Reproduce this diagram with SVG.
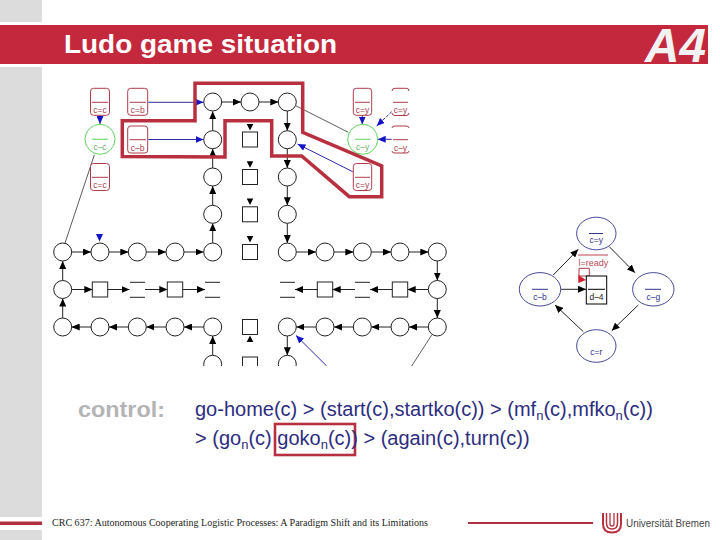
<svg xmlns="http://www.w3.org/2000/svg" width="720" height="540" viewBox="0 0 720 540">
<style>
.p{fill:#fff;stroke:#222;stroke-width:1}
.b{stroke:#222;stroke-width:1;fill:none}
.k{stroke:#222;stroke-width:1;fill:none;marker-end:url(#ak)}
.u{stroke:#2a2aa8;stroke-width:1;fill:none;marker-end:url(#au)}
.thin{stroke:#333;stroke-width:.8;fill:none}
.r{fill:#fff;stroke:#b03a4a;stroke-width:1}
.ro{fill:none;stroke:#b03a4a;stroke-width:1}
.g{fill:#fff;stroke:#5ed85e;stroke-width:1}
.n{font:8.5px "Liberation Sans",Arial,sans-serif;fill:#a8404e;text-anchor:middle}
.ng{font:8.5px "Liberation Sans",Arial,sans-serif;fill:#70b070;text-anchor:middle}
.e{fill:#fff;stroke:#33338c;stroke-width:.9}
.ne{font:8.5px "Liberation Sans",Arial,sans-serif;fill:#33338c;text-anchor:middle}
.t{font:20px "Liberation Sans",Arial,sans-serif;fill:#2d2d80}
.s{font-size:13px}
</style>
<defs>
<marker id="ak" markerUnits="userSpaceOnUse" markerWidth="8" markerHeight="7" refX="8" refY="3.5" orient="auto"><path d="M0,0L8,3.5L0,7z" fill="#000"/></marker>
<marker id="au" markerUnits="userSpaceOnUse" markerWidth="8" markerHeight="7" refX="8" refY="3.5" orient="auto"><path d="M0,0L8,3.5L0,7z" fill="#1414c8"/></marker>
<clipPath id="cut"><rect x="0" y="0" width="720" height="366"/></clipPath>
<clipPath id="cutr"><rect x="392" y="80" width="18" height="120"/></clipPath>
</defs>

<g id="page">
<rect x="0" y="0" width="42" height="22" fill="#dcdcdc"/>
<rect x="0" y="67" width="42" height="450" fill="#dcdcdc"/>
<rect x="0" y="530" width="42" height="10" fill="#dcdcdc"/>
<rect x="0" y="25" width="708" height="39" fill="#c4283c"/>
<rect x="0" y="521.5" width="42" height="3.5" fill="#b0303f"/>
<text x="64" y="53" font-family="Liberation Sans,Arial,sans-serif" font-weight="700" font-size="25" fill="#fff" textLength="273" lengthAdjust="spacingAndGlyphs">Ludo game situation</text>
<text x="645" y="62" font-family="Liberation Sans,Arial,sans-serif" font-weight="700" font-style="italic" font-size="48" fill="#f2f2f2" textLength="61" lengthAdjust="spacingAndGlyphs">A4</text>
</g>

<g id="connectors" clip-path="url(#cut)">
<line class="k" x1="212.7" y1="130.7" x2="212.7" y2="111.3"/>
<line class="k" x1="212.7" y1="168" x2="212.7" y2="148.7"/>
<line class="k" x1="212.7" y1="205.3" x2="212.7" y2="186"/>
<line class="k" x1="212.7" y1="243" x2="212.7" y2="223.3"/>
<line class="k" x1="221.7" y1="102" x2="241" y2="102"/>
<line class="k" x1="259" y1="102" x2="278.3" y2="102"/>
<line class="k" x1="287.3" y1="111" x2="287.3" y2="130.7"/>
<line class="k" x1="287.3" y1="148.7" x2="287.3" y2="168"/>
<line class="k" x1="287.3" y1="186" x2="287.3" y2="205.3"/>
<line class="k" x1="287.3" y1="223.3" x2="287.3" y2="243"/>
<line class="k" x1="71.7" y1="252" x2="91" y2="252"/>
<line class="k" x1="109" y1="252" x2="128.3" y2="252"/>
<line class="k" x1="146.3" y1="252" x2="166" y2="252"/>
<line class="k" x1="184" y1="252" x2="203.5" y2="252"/>
<line class="k" x1="296.3" y1="252" x2="316" y2="252"/>
<line class="k" x1="334" y1="252" x2="353.3" y2="252"/>
<line class="k" x1="371.3" y1="252" x2="391" y2="252"/>
<line class="k" x1="409" y1="252" x2="428.3" y2="252"/>
<line class="k" x1="437.3" y1="261" x2="437.3" y2="280.5"/>
<line class="k" x1="437.3" y1="298.5" x2="437.3" y2="318"/>
<line class="k" x1="62.7" y1="318" x2="62.7" y2="298.5"/>
<line class="k" x1="62.7" y1="280.5" x2="62.7" y2="261"/>
<line class="k" x1="71.7" y1="289.5" x2="92.3" y2="289.5"/>
<line class="k" x1="107.7" y1="289.5" x2="129.5" y2="289.5"/>
<line class="k" x1="145" y1="289.5" x2="167.3" y2="289.5"/>
<line class="k" x1="182.7" y1="289.5" x2="205" y2="289.5"/>
<line class="k" x1="428.3" y1="289.5" x2="407.7" y2="289.5"/>
<line class="k" x1="392.3" y1="289.5" x2="370" y2="289.5"/>
<line class="k" x1="355" y1="289.5" x2="332.7" y2="289.5"/>
<line class="k" x1="317.3" y1="289.5" x2="295" y2="289.5"/>
<line class="k" x1="203.7" y1="327" x2="184" y2="327"/>
<line class="k" x1="166" y1="327" x2="146.3" y2="327"/>
<line class="k" x1="128.3" y1="327" x2="109" y2="327"/>
<line class="k" x1="91" y1="327" x2="71.7" y2="327"/>
<line class="k" x1="428.3" y1="327" x2="409" y2="327"/>
<line class="k" x1="391" y1="327" x2="371.3" y2="327"/>
<line class="k" x1="353.3" y1="327" x2="334" y2="327"/>
<line class="k" x1="316" y1="327" x2="296.3" y2="327"/>
<line class="k" x1="212.7" y1="355.3" x2="212.7" y2="336"/>
<line class="k" x1="287.3" y1="336" x2="287.3" y2="355.3"/>
<line class="thin" x1="94.3" y1="155" x2="65" y2="243"/>
<line class="thin" x1="295.7" y1="105.7" x2="348.3" y2="132.3"/>
<line class="thin" x1="431.7" y1="335" x2="411.7" y2="366"/>
<line class="u" x1="148.3" y1="102.3" x2="203.5" y2="102.3"/>
<line class="u" x1="148.3" y1="139.5" x2="203.5" y2="139.5"/>
<line class="u" x1="100" y1="115" x2="100" y2="124"/>
<line class="u" x1="362.3" y1="115" x2="362.3" y2="124.5"/>
<line class="u" x1="391.7" y1="111.7" x2="376.7" y2="126" stroke-dasharray="3 1.5"/>
<line class="u" x1="391.7" y1="139.3" x2="377.7" y2="139.3"/>
<line class="u" x1="352.7" y1="171.7" x2="297.5" y2="144"/>
<line class="u" x1="326.7" y1="366" x2="296" y2="335.5"/>
<path d="M96,234L103,234L99.5,241.5z" fill="#1414c8"/>
<path d="M246.7,124L253.3,124L250,130.5z M246.7,161.3L253.3,161.3L250,167.8z M246.7,198.6L253.3,198.6L250,205.1z M246.7,236L253.3,236L250,242.5z" fill="#000"/>
<path d="M246.7,342L253.3,342L250,335.5z" fill="#000"/>
<line class="k" x1="553.3" y1="275" x2="578.3" y2="249.3"/>
<line class="k" x1="609.3" y1="246.7" x2="635" y2="272.7"/>
<line class="k" x1="638.3" y1="305" x2="611.7" y2="330.7"/>
<line class="k" x1="583.3" y1="331.7" x2="555" y2="305"/>
<line class="k" stroke-width="1.2" x1="560.7" y1="289.3" x2="586" y2="289.3"/>
<path d="M579,278.5V268.3H589.3V276H579" fill="none" stroke="#b03a4a" stroke-width="1"/>
<path d="M578.3,275L586,280L578.3,283z" fill="#d01c2c"/>
</g>

<g id="n-c1" ><rect class="r" x="90.5" y="88.3" width="19" height="27" rx="3"/><line class="ro" x1="92" y1="102.3" x2="108" y2="102.3"/><text class="n" x="100" y="113">c=c</text></g>
<g id="n-c2"><circle class="g" cx="100" cy="139.3" r="15"/><line x1="92" y1="139.3" x2="108" y2="139.3" stroke="#5ed85e"/><text class="ng" x="100" y="150">c–c</text></g>
<g id="n-c3"><rect class="r" x="90.5" y="163.5" width="19" height="27" rx="3"/><line class="ro" x1="92" y1="177.3" x2="108" y2="177.3"/><text class="n" x="100" y="188">c=c</text></g>
<g id="n-b1"><rect class="r" x="127.7" y="88.3" width="20" height="27" rx="3"/><line class="ro" x1="129.5" y1="102.3" x2="146" y2="102.3"/><text class="n" x="137.7" y="113">c=b</text></g>
<g id="n-b2"><rect class="r" x="127.7" y="126" width="20" height="27" rx="3"/><line class="ro" x1="129.5" y1="139.7" x2="146" y2="139.7"/><text class="n" x="137.7" y="150.5">c–b</text></g>
<g id="n-y1"><rect class="r" x="353.3" y="88.3" width="18.4" height="27" rx="3"/><line class="ro" x1="355" y1="102.3" x2="370" y2="102.3"/><text class="n" x="362.5" y="113">c=y</text></g>
<g id="n-y2"><circle class="g" cx="362.7" cy="139.3" r="15"/><line x1="355" y1="139.3" x2="370.5" y2="139.3" stroke="#5ed85e"/><text class="ng" x="362.7" y="150">c–y</text></g>
<g id="n-y3"><rect class="r" x="353.3" y="163.5" width="18.4" height="27" rx="3"/><line class="ro" x1="355" y1="177.3" x2="370" y2="177.3"/><text class="n" x="362.5" y="188">c=y</text></g>
<g id="n-y4"><path class="ro" d="M392,91Q392,88.3 395,88.3H406Q409,88.3 409,91M392,113Q392,115.5 395,115.5H406Q409,115.5 409,113"/><line class="ro" x1="393" y1="102.3" x2="408" y2="102.3"/><text class="n" x="400.5" y="113">c=y</text></g>
<g id="n-y5"><path class="ro" d="M392,128Q392,126 395,126H406Q409,126 409,128M392,151Q392,153 395,153H406Q409,153 409,151"/><line class="ro" x1="393" y1="139.7" x2="408" y2="139.7"/><text class="n" x="400.5" y="150.5">c–y</text></g>

<g id="track-nodes">
<circle id="p1" class="p" cx="212.7" cy="102" r="9"/>
<circle id="p2" class="p" cx="250" cy="102" r="9"/>
<circle id="p3" class="p" cx="287.3" cy="102" r="9"/>
<circle id="p4" class="p" cx="212.7" cy="139.7" r="9"/>
<circle id="p5" class="p" cx="212.7" cy="177" r="9"/>
<circle id="p6" class="p" cx="212.7" cy="214.3" r="9"/>
<circle id="p7" class="p" cx="287.3" cy="139.7" r="9"/>
<circle id="p8" class="p" cx="287.3" cy="177" r="9"/>
<circle id="p9" class="p" cx="287.3" cy="214.3" r="9"/>
<rect id="h1" class="p" x="242.5" y="132" width="15" height="15"/>
<rect id="h2" class="p" x="242.5" y="169.5" width="15" height="15"/>
<rect id="h3" class="p" x="242.5" y="206.8" width="15" height="15"/>
<rect id="h4" class="p" x="242.5" y="244.5" width="15" height="15"/>
<circle id="p10" class="p" cx="62.7" cy="252" r="9"/>
<circle id="p11" class="p" cx="100" cy="252" r="9"/>
<circle id="p12" class="p" cx="137.3" cy="252" r="9"/>
<circle id="p13" class="p" cx="175" cy="252" r="9"/>
<circle id="p14" class="p" cx="212.7" cy="252" r="9"/>
<circle id="p15" class="p" cx="287.3" cy="252" r="9"/>
<circle id="p16" class="p" cx="325" cy="252" r="9"/>
<circle id="p17" class="p" cx="362.3" cy="252" r="9"/>
<circle id="p18" class="p" cx="400" cy="252" r="9"/>
<circle id="p19" class="p" cx="437.3" cy="252" r="9"/>
<circle id="p20" class="p" cx="62.7" cy="289.5" r="9"/>
<rect id="s1" class="p" x="92.3" y="282" width="15.4" height="15"/>
<path id="q1" class="b" d="M130,282.3H145M130,297.3H145"/>
<rect id="s2" class="p" x="167.3" y="282" width="15.4" height="15"/>
<path id="q2" class="b" d="M205,282.3H220M205,297.3H220"/>
<path id="q3" class="b" d="M280,282.3H295M280,297.3H295"/>
<rect id="s3" class="p" x="317.3" y="282" width="15.4" height="15"/>
<path id="q4" class="b" d="M355,282.3H370M355,297.3H370"/>
<rect id="s4" class="p" x="392.3" y="282" width="15.4" height="15"/>
<circle id="p21" class="p" cx="437.3" cy="289.5" r="9"/>
<circle id="p22" class="p" cx="62.7" cy="327" r="9"/>
<circle id="p23" class="p" cx="100" cy="327" r="9"/>
<circle id="p24" class="p" cx="137.3" cy="327" r="9"/>
<circle id="p25" class="p" cx="175" cy="327" r="9"/>
<circle id="p26" class="p" cx="212.7" cy="327" r="9"/>
<circle id="p27" class="p" cx="287.3" cy="327" r="9"/>
<circle id="p28" class="p" cx="325" cy="327" r="9"/>
<circle id="p29" class="p" cx="362.3" cy="327" r="9"/>
<circle id="p30" class="p" cx="400" cy="327" r="9"/>
<circle id="p31" class="p" cx="437.3" cy="327" r="9"/>
<rect id="h5" class="p" x="242.5" y="319.5" width="15" height="15"/>
<g clip-path="url(#cut)">
<circle id="p32" class="p" cx="212.7" cy="364.3" r="9"/>
<rect id="h6" class="p" x="242.5" y="357" width="15" height="15"/>
<circle id="p33" class="p" cx="287.3" cy="364.3" r="9"/>
</g>
</g>

<g id="n-top"><ellipse class="e" cx="596.3" cy="233.5" rx="19.7" ry="16.3"/><line x1="589" y1="233.5" x2="603" y2="233.5" stroke="#33338c"/><text class="ne" x="596.3" y="243">c=y</text></g>
<g id="n-left"><ellipse class="e" cx="540" cy="289.3" rx="20.7" ry="16.7"/><line x1="532" y1="289.3" x2="548" y2="289.3" stroke="#33338c"/><text class="ne" x="540" y="299.5">c–b</text></g>
<g id="n-right"><ellipse class="e" cx="653.3" cy="289.3" rx="20.7" ry="16.7"/><line x1="645" y1="289.3" x2="661" y2="289.3" stroke="#33338c"/><text class="ne" x="653.3" y="299.5">c–g</text></g>
<g id="n-bottom"><ellipse class="e" cx="596.3" cy="346" rx="19.7" ry="16.3"/><text class="ne" x="596.3" y="355">c=r</text></g>
<g id="n-d"><rect x="586.3" y="276" width="20.4" height="28" fill="#fff" stroke="#000" stroke-width="1"/><line x1="588" y1="289.3" x2="605" y2="289.3" stroke="#000"/><text x="596.5" y="300" font-family="Liberation Sans,Arial,sans-serif" font-size="8.5" fill="#222" text-anchor="middle">d–4</text></g>
<g id="guard"><line x1="578" y1="255" x2="608" y2="255" stroke="#c04050" stroke-width="1"/><text x="578.5" y="266" font-family="Liberation Sans,Arial,sans-serif" font-size="9" fill="#b84a58">l=ready</text></g>

<g id="highlight" fill="none" stroke="#b8303f" stroke-width="3.5">
<path d="M195,83.3V120.7H122.3V156.5L225,157V120.7H271.7V156H301.7L349.3,196.7H381.7V166L302.7,132.3V83.3Z"/>
<rect x="275" y="424" width="80" height="31" stroke-width="2.6"/>
</g>

<g id="control">
<text x="78" y="417" font-family="Liberation Sans,Arial,sans-serif" font-weight="700" font-size="22" fill="#b4b4b4" textLength="87" lengthAdjust="spacingAndGlyphs">control:</text>
<text class="t" x="195" y="416">go-home(c) &gt; (start(c),startko(c)) &gt; (mf<tspan class="s" dy="4">n</tspan><tspan dy="-4">(c),mfko</tspan><tspan class="s" dy="4">n</tspan><tspan dy="-4">(c))</tspan></text>
<text class="t" x="195" y="445">&gt; (go<tspan class="s" dy="4">n</tspan><tspan dy="-4">(c) goko</tspan><tspan class="s" dy="4">n</tspan><tspan dy="-4">(c)) &gt; (again(c),turn(c))</tspan></text>
</g>

<g id="footer">
<text x="52" y="526" font-family="Liberation Serif,Times New Roman,serif" font-size="10.2" fill="#222" textLength="376" lengthAdjust="spacingAndGlyphs">CRC 637: Autonomous Cooperating Logistic Processes: A Paradigm Shift and its Limitations</text>
<rect x="468" y="522" width="125" height="2" fill="#b0303f"/>
<g fill="none" stroke="#b8303f">
<path d="M603,513V524Q603,532.5 612,532.5Q621,532.5 621,524V513" stroke-width="2"/>
<path d="M606.5,513V523Q606.5,529 612,529Q617.5,529 617.5,523V513" stroke-width="1.5"/>
<path d="M610,513V524Q610,526 612,526Q614,526 614,524V513" stroke-width="1.3"/>
</g>
<text x="626" y="527" font-family="Liberation Sans,Arial,sans-serif" font-size="10.2" fill="#444" textLength="84" lengthAdjust="spacingAndGlyphs">Universität Bremen</text>
</g>
</svg>
